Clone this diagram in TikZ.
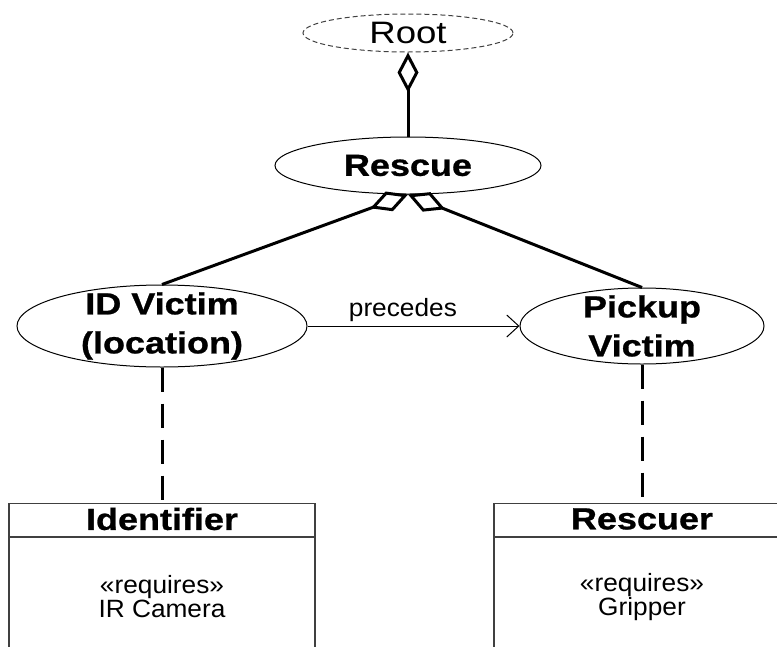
\documentclass[tikz,border=0pt]{standalone}
\usepackage{fontspec}
\setmainfont{Liberation Sans}[BoldFeatures={FakeBold=0.8}]
\usepackage{graphicx}
\usetikzlibrary{arrows.meta,shapes.geometric}

% widened lettering
\newcommand{\wideb}[1]{\scalebox{1.18}[1]{#1}}
\newcommand{\wider}[1]{\scalebox{1.05}[1]{#1}}

\begin{document}
\begin{tikzpicture}[x=1pt,y=-1pt,
  uc/.style={draw, ellipse, line width=1pt, inner sep=0pt},
  bigtxt/.style={font=\fontsize{30.5}{39}\selectfont\bfseries, align=center, inner sep=0pt},
  plaintxt/.style={font=\fontsize{31}{38}\selectfont, align=center, inner sep=0pt},
  smalltxt/.style={font=\fontsize{25}{24}\selectfont, align=center, inner sep=0pt},
  agg/.style={line width=3pt, -{Diamond[open,length=40pt,width=21pt]}},
  trace/.style={line width=3pt, dash pattern=on 24pt off 12pt},
  prec/.style={line width=1pt, -{Straight Barb[length=12pt,width=22pt]}},
  classbox/.style={draw=black!75, line width=1.3pt, inner sep=0pt}]

\path[use as bounding box, fill=white] (0,0) rectangle (777,646);

% use cases
\node[uc, draw=black!75, dash pattern=on 5pt off 3pt, minimum width=210pt, minimum height=38pt] (root) at (408,33) {};
\node[plaintxt] (rootT) at (root.center) {\wideb{Root}};

\node[uc, minimum width=266pt, minimum height=57pt] (rescue) at (408,165.5) {};
\node[bigtxt] (rescueT) at (rescue.center) {\wideb{Rescue}};

\node[uc, minimum width=290pt, minimum height=82pt] (idv) at (162,326) {};
\node[bigtxt] (idvT) at (idv.center) {\wideb{ID Victim}\\\wideb{(location)}};

\node[uc, minimum width=244pt, minimum height=76pt] (pv) at (642,326) {};
\node[bigtxt] (pvT) at (pv.center) {\wideb{Pickup}\\\wideb{Victim}};

% roles
\node[classbox, minimum width=306pt, minimum height=200pt, anchor=north] (ident) at (162,503) {};
\draw[classbox] ([yshift=-34pt]ident.north west) -- ([yshift=-34pt]ident.north east);
\node[bigtxt] (identT) at ([yshift=-16pt]ident.north) {\wideb{Identifier}};
\node[smalltxt] (identB) at ([yshift=-94pt]ident.north) {\wider{«requires»}\\\wider{IR Camera}};

\node[classbox, minimum width=296pt, minimum height=200pt, anchor=north] (resc) at (642,503) {};
\draw[classbox] ([yshift=-34pt]resc.north west) -- ([yshift=-34pt]resc.north east);
\node[bigtxt] (rescT) at ([yshift=-16pt]resc.north) {\wideb{Rescuer}};
\node[smalltxt] (rescB) at ([yshift=-94pt]resc.north) {\wider{«requires»}\\\wider{Gripper}};

% connectors
\draw[agg] (rescue.north) -- (root.south);
\draw[agg] (idv.north) -- (rescue.south);
\draw[agg] (pv.north) -- (rescue.south);
\draw[prec] (idv.east) -- (pv.west)
  node[pos=0.45, anchor=south, yshift=4pt, inner sep=0pt, font=\fontsize{25}{28}\selectfont] (precT) {\wider{precedes}};
\draw[trace] (idv.south) -- (ident.north);
\draw[trace] (pv.south) -- (resc.north);
\end{tikzpicture}
\end{document}
